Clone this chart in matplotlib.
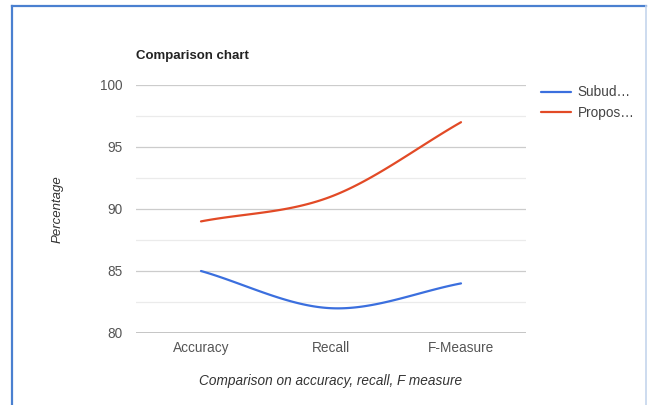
import numpy as np
import matplotlib.pyplot as plt
from matplotlib.lines import Line2D

plt.rcParams['font.family'] = ['Liberation Sans', 'DejaVu Sans']

# data
categories = ['Accuracy', 'Recall', 'F-Measure']
subud = [85, 82, 84]
proposed = [89, 91, 97]
series_names = ['Subud\u2026', 'Propos\u2026']
colors = ['#3b6fde', '#e24a26']
y_ticks = [80, 85, 90, 95, 100]


# smooth curve through the points (similar to curveType 'function')
def smooth_curve(xs, ys, n=60):
    pts = np.column_stack([xs, ys]).astype(float)
    tangents = []
    for i in range(len(pts)):
        if i == 0:
            t = pts[1] - pts[0]
        elif i == len(pts) - 1:
            t = pts[-1] - pts[-2]
        else:
            t = (pts[i + 1] - pts[i - 1]) / 2
        tangents.append(t)
    out = []
    s = np.linspace(0, 1, n)[:, None]
    for i in range(len(pts) - 1):
        p0 = pts[i]
        p3 = pts[i + 1]
        p1 = p0 + tangents[i] / 3
        p2 = p3 - tangents[i + 1] / 3
        seg = ((1 - s) ** 3) * p0 + 3 * ((1 - s) ** 2) * s * p1 \
            + 3 * (1 - s) * s ** 2 * p2 + s ** 3 * p3
        out.append(seg if i == 0 else seg[1:])
    out = np.vstack(out)
    return out[:, 0], out[:, 1]


fig = plt.figure(figsize=(6.48, 4.05), dpi=100)

# border of the screenshot: blue on top and left, pale on the right
left, right, top = 11.5 / 648, 646 / 648, 1 - 5.5 / 405
fig.add_artist(Line2D([left, right], [top, top], transform=fig.transFigure,
                      color='#4a80d0', linewidth=1.6))
fig.add_artist(Line2D([left, left], [0, top], transform=fig.transFigure,
                      color='#4a80d0', linewidth=1.6))
fig.add_artist(Line2D([right, right], [0, top], transform=fig.transFigure,
                      color='#c5d5ec', linewidth=1.2))

ax = fig.add_axes([136 / 648, (405 - 333) / 405, 390 / 648, 248 / 405])

x = np.arange(len(categories)) + 0.5
for vals, c, name in zip([subud, proposed], colors, series_names):
    sx, sy = smooth_curve(x, vals)
    ax.plot(sx, sy, color=c, linewidth=1.6, label=name, solid_capstyle='round')

ax.set_xlim(0, len(categories))
ax.set_ylim(80, 100)
ax.set_yticks(y_ticks)
ax.set_yticks([82.5, 87.5, 92.5, 97.5], minor=True)
ax.set_xticks(x)
ax.set_xticklabels(categories)
ax.grid(axis='y', which='major', color='#cccccc', linewidth=0.9)
ax.grid(axis='y', which='minor', color='#ebebeb', linewidth=0.9)
ax.axhline(80, color='#bdbdbd', linewidth=1.2)
ax.set_axisbelow(True)
for sp in ax.spines.values():
    sp.set_visible(False)
ax.tick_params(axis='both', which='both', length=0, colors='#555555', labelsize=9.8)
ax.tick_params(axis='y', pad=9.5)
ax.tick_params(axis='x', pad=5.5)

ax.set_ylabel('Percentage', style='italic', fontsize=9.5, color='#333333', labelpad=26.5)
ax.set_xlabel('Comparison on accuracy, recall, F measure', style='italic',
              fontsize=9.8, color='#333333', labelpad=14)

fig.text(136 / 648, 1 - 56 / 405, 'Comparison chart', fontsize=9.5, weight='bold',
         color='#222222', va='center', ha='left')

fig.legend(loc='upper left', bbox_to_anchor=(536 / 648, 1 - 80 / 405), frameon=False,
           fontsize=9.8, handlelength=2.2, handletextpad=0.45, labelspacing=0.45,
           borderaxespad=0, labelcolor='#444444')

fig.savefig('out.png', dpi=100)
